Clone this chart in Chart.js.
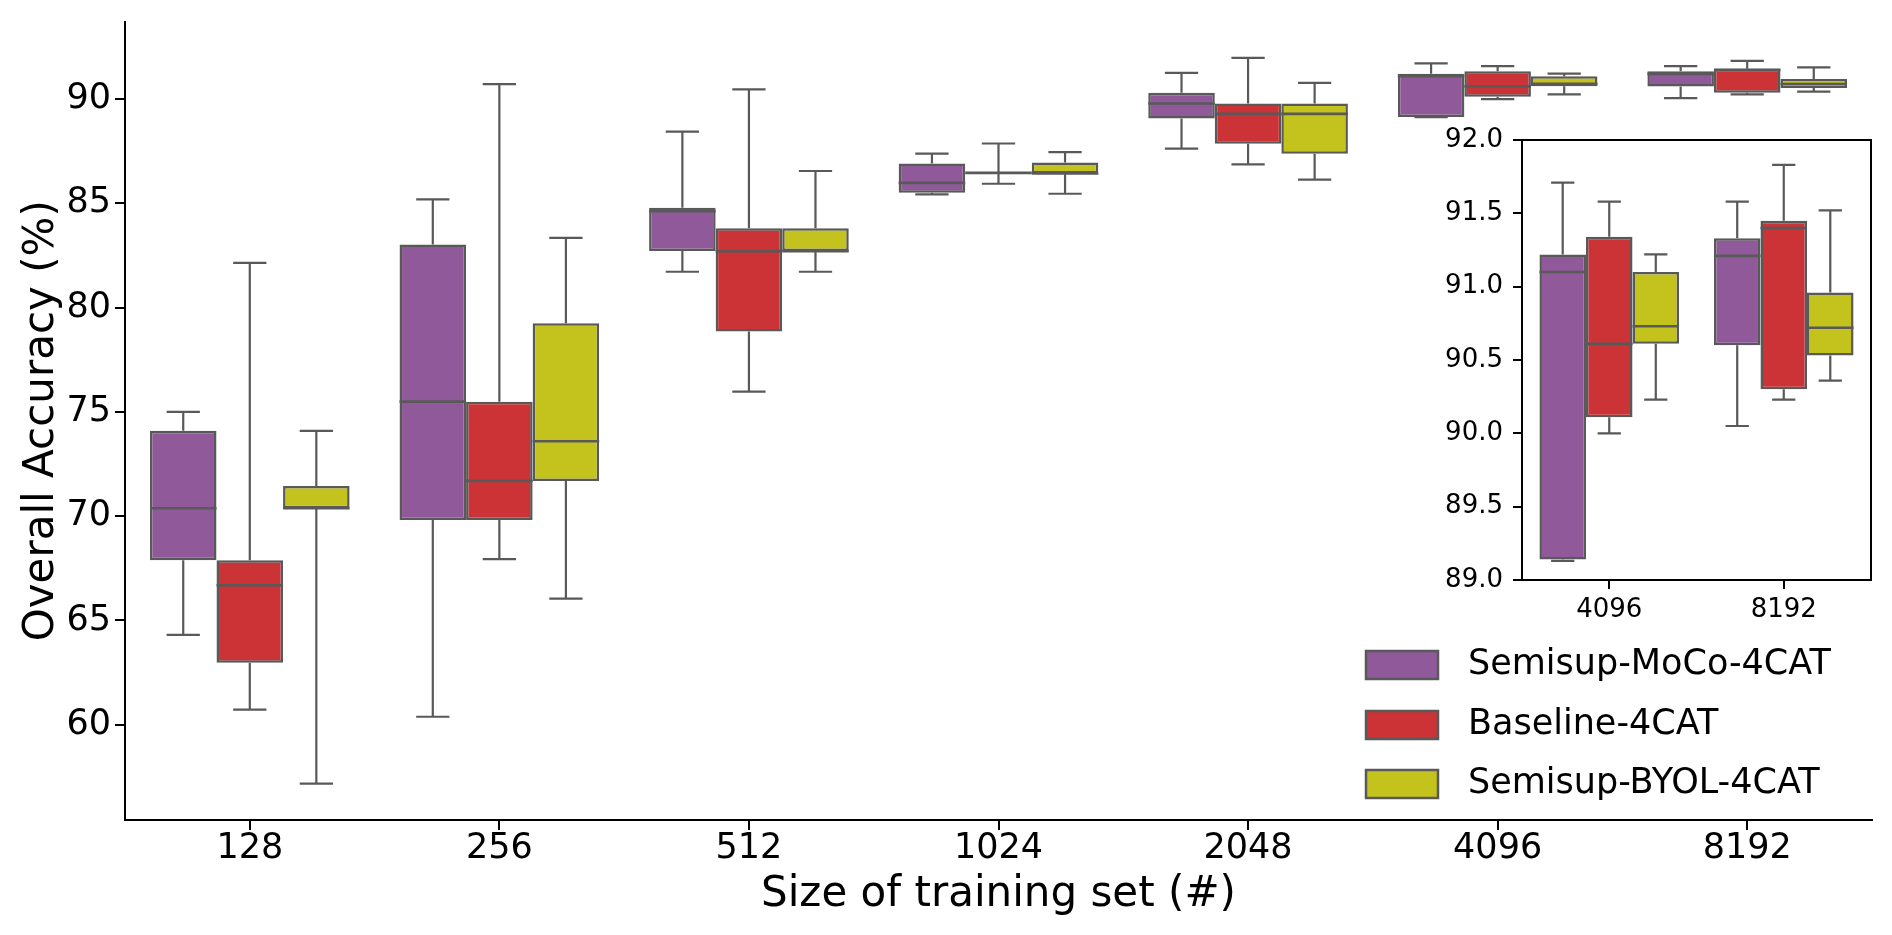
<!DOCTYPE html>
<html>
<head>
<meta charset="utf-8">
<script src="https://cdn.jsdelivr.net/npm/chart.js@4.4.1/dist/chart.umd.min.js"></script>
<style>
    html, body { margin: 0; padding: 0; background: #fff; }
    #wrap { position: relative; width: 1892px; height: 935px; }
    #main { position: absolute; left: 0; top: 0; }
    #inset { position: absolute; left: 1400px; top: 100px; }
</style>
</head>
<body>
<div id="wrap">
    <canvas id="main" width="1892" height="935"></canvas>
    <canvas id="inset" width="492" height="560"></canvas>
</div>
<script>
// Training set sizes (categories)
const sizes = ['128', '256', '512', '1024', '2048', '4096', '8192'];
const seriesNames = ['Semisup-MoCo-4CAT', 'Baseline-4CAT', 'Semisup-BYOL-4CAT'];

// Semisup-MoCo-4CAT: whisker low, Q1, median, Q3, whisker high
const mocoLow    = [64.31, 60.38, 81.72, 85.43, 87.62, 89.13, 90.05];
const mocoQ1     = [67.89, 69.82, 82.71, 85.51, 89.07, 89.14, 90.60];
const mocoMedian = [70.38, 75.49, 84.62, 85.98, 89.79, 91.10, 91.21];
const mocoQ3     = [74.09, 83.03, 84.79, 86.91, 90.30, 91.22, 91.33];
const mocoHigh   = [75.00, 85.19, 88.44, 87.38, 91.26, 91.71, 91.58];

// Baseline-4CAT
const baseLow    = [60.72, 67.94, 75.97, 85.94, 86.87, 90.00, 90.23];
const baseQ1     = [62.97, 69.82, 78.85, 86.46, 87.86, 90.11, 90.30];
const baseMedian = [66.69, 71.69, 82.71, 86.46, 89.29, 90.61, 91.40];
const baseQ3     = [67.89, 75.49, 83.80, 86.46, 89.79, 91.34, 91.45];
const baseHigh   = [82.15, 90.72, 90.47, 87.87, 91.98, 91.58, 91.83];

// Semisup-BYOL-4CAT
const byolLow    = [57.17, 66.05, 81.72, 85.46, 86.14, 90.23, 90.36];
const byolQ1     = [70.38, 71.69, 82.71, 86.43, 87.38, 90.61, 90.53];
const byolMedian = [70.38, 73.59, 82.71, 86.43, 89.29, 90.73, 90.72];
const byolQ3     = [71.45, 79.25, 83.80, 86.96, 89.79, 91.10, 90.96];
const byolHigh   = [74.09, 83.34, 86.55, 87.46, 90.78, 91.22, 91.52];

// Tick labels
const yTicks = [60, 65, 70, 75, 80, 85, 90];
const insetTicks = [89.0, 89.5, 90.0, 90.5, 91.0, 91.5, 92.0];

const colors = ['#905a9a', '#cc3336', '#c4c31e'];
const lineGray = '#595959';
const family = "'DejaVu Sans', 'Liberation Sans', sans-serif";

Chart.defaults.color = '#000';
Chart.defaults.font.family = family;

const series = [
    { low: mocoLow, q1: mocoQ1, med: mocoMedian, q3: mocoQ3, high: mocoHigh },
    { low: baseLow, q1: baseQ1, med: baseMedian, q3: baseQ3, high: baseHigh },
    { low: byolLow, q1: byolQ1, med: byolMedian, q3: byolQ3, high: byolHigh }
];

// Boxes are floating bars [Q1, Q3]; whiskers and medians are drawn by the plugin below
function buildDatasets(from, to) {
    return series.map((s, i) => ({
        label: seriesNames[i],
        data: s.q1.slice(from, to).map((q1, j) => [q1, s.q3[from + j]]),
        lows: s.low.slice(from, to),
        meds: s.med.slice(from, to),
        highs: s.high.slice(from, to),
        backgroundColor: colors[i],
        borderColor: lineGray,
        borderWidth: 2.5,
        borderSkipped: false,
        categoryPercentage: 0.8,
        barPercentage: 1.0
    }));
}

function eachBox(chart, fn) {
    const yScale = chart.scales.y;
    chart.data.datasets.forEach((ds, i) => {
        chart.getDatasetMeta(i).data.forEach((bar, j) => {
            const { x, width } = bar.getProps(['x', 'width'], true);
            fn(chart.ctx, x, width, v => yScale.getPixelForValue(v), ds, j);
        });
    });
}

const boxWhiskers = {
    id: 'boxWhiskers',
    beforeDatasetsDraw(chart) {
        eachBox(chart, (ctx, x, w, py, ds, j) => {
            const q1 = ds.data[j][0], q3 = ds.data[j][1];
            const capHalf = w / 4;
            ctx.save();
            ctx.strokeStyle = lineGray;
            ctx.lineWidth = 2.2;
            ctx.beginPath();
            ctx.moveTo(x, py(q3));
            ctx.lineTo(x, py(ds.highs[j]));
            ctx.moveTo(x - capHalf, py(ds.highs[j]));
            ctx.lineTo(x + capHalf, py(ds.highs[j]));
            ctx.moveTo(x, py(q1));
            ctx.lineTo(x, py(ds.lows[j]));
            ctx.moveTo(x - capHalf, py(ds.lows[j]));
            ctx.lineTo(x + capHalf, py(ds.lows[j]));
            ctx.stroke();
            ctx.restore();
        });
    },
    afterDatasetsDraw(chart) {
        eachBox(chart, (ctx, x, w, py, ds, j) => {
            ctx.save();
            ctx.strokeStyle = lineGray;
            ctx.lineWidth = 2.6;
            ctx.beginPath();
            ctx.moveTo(x - w / 2, py(ds.meds[j]));
            ctx.lineTo(x + w / 2, py(ds.meds[j]));
            ctx.stroke();
            ctx.restore();
        });
    }
};

// Legend in the lower right of the main plot
const boxLegend = {
    id: 'boxLegend',
    afterDraw(chart) {
        const { ctx, chartArea } = chart;
        const rowOffsets = [155, 95, 36];
        ctx.save();
        chart.data.datasets.forEach((ds, i) => {
            const cy = chartArea.bottom - rowOffsets[i];
            const px = chartArea.right - 506;
            ctx.fillStyle = ds.backgroundColor;
            ctx.fillRect(px, cy - 14, 72, 28);
            ctx.strokeStyle = lineGray;
            ctx.lineWidth = 2.5;
            ctx.strokeRect(px, cy - 14, 72, 28);
            ctx.fillStyle = '#000';
            ctx.font = '35px ' + family;
            ctx.textBaseline = 'middle';
            ctx.textAlign = 'left';
            ctx.fillText(ds.label, chartArea.right - 404, cy);
        });
        ctx.restore();
    }
};

// Inset: white background and a full frame
const insetFrame = {
    id: 'insetFrame',
    beforeDraw(chart) {
        const { ctx, chartArea: a } = chart;
        ctx.save();
        ctx.fillStyle = '#fff';
        ctx.fillRect(a.left, a.top, a.right - a.left, a.bottom - a.top);
        ctx.restore();
    },
    afterDraw(chart) {
        const { ctx, chartArea: a } = chart;
        ctx.save();
        ctx.strokeStyle = '#000';
        ctx.lineWidth = 2;
        ctx.strokeRect(a.left, a.top, a.right - a.left, a.bottom - a.top);
        ctx.restore();
    }
};

function axisX(fontSize, tickLen, pad, height, title) {
    return {
        offset: true,
        grid: { drawOnChartArea: false, drawTicks: true, tickLength: tickLen, lineWidth: 2, color: '#000', offset: false },
        border: { display: true, color: '#000', width: 2 },
        ticks: { font: { size: fontSize, lineHeight: 1 }, color: '#000', padding: pad, maxRotation: 0 },
        title: title,
        afterFit: s => { s.height = height; }
    };
}

function axisY(min, max, ticks, fontSize, tickLen, pad, width, title, fmt) {
    return {
        min: min,
        max: max,
        afterBuildTicks: s => { s.ticks = ticks.map(v => ({ value: v })); },
        grid: { drawOnChartArea: false, drawTicks: true, tickLength: tickLen, lineWidth: 2, color: '#000' },
        border: { display: true, color: '#000', width: 2 },
        ticks: { font: { size: fontSize, lineHeight: 1 }, color: '#000', padding: pad, callback: fmt },
        title: title,
        afterFit: s => { s.width = width; }
    };
}

new Chart(document.getElementById('main'), {
    type: 'bar',
    data: { labels: sizes, datasets: buildDatasets(0, sizes.length) },
    options: {
        responsive: false,
        animation: false,
        layout: { padding: { top: 19, right: 20, bottom: 0, left: 0 } },
        plugins: { legend: { display: false }, tooltip: { enabled: false } },
        scales: {
            x: axisX(35, 10, 1, 115, {
                display: true, text: 'Size of training set (#)',
                font: { size: 42, lineHeight: 1 }, padding: { top: 0, bottom: 19 }
            }),
            y: axisY(55.43, 93.72, yTicks, 35, 10, 4, 125, {
                display: true, text: 'Overall Accuracy (%)',
                font: { size: 42, lineHeight: 1 }, padding: { top: 21, bottom: 0 }
            }, v => String(v))
        }
    },
    plugins: [boxWhiskers, boxLegend]
});

new Chart(document.getElementById('inset'), {
    type: 'bar',
    data: { labels: sizes.slice(5), datasets: buildDatasets(5, 7) },
    options: {
        responsive: false,
        animation: false,
        layout: { padding: { top: 40, right: 21, bottom: 0, left: 0 } },
        plugins: { legend: { display: false }, tooltip: { enabled: false } },
        scales: {
            x: axisX(26, 9, 8, 80, { display: false }),
            y: axisY(89, 92, insetTicks, 26, 9, 10, 122, { display: false }, v => v.toFixed(1))
        }
    },
    plugins: [insetFrame, boxWhiskers]
});
</script>
</body>
</html>
